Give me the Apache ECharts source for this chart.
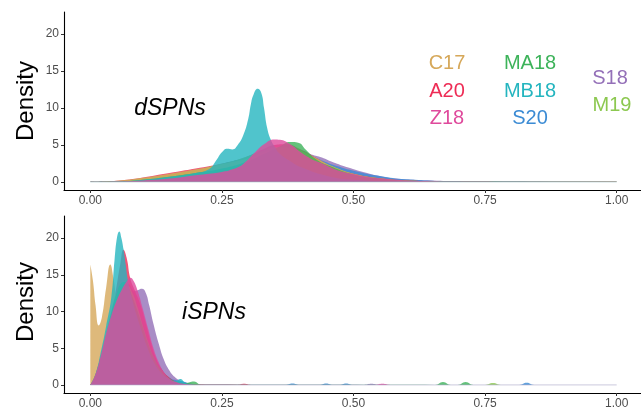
<!DOCTYPE html>
<html>
<head>
<meta charset="utf-8">
<script src="https://cdn.jsdelivr.net/npm/echarts@6/dist/echarts.min.js"></script>
<style>
  html, body { margin: 0; padding: 0; background: #fff; }
  #chart { width: 641px; height: 416px; }
</style>
</head>
<body>
<div id="chart"></div>
<script>
// sample names, drawing order (last one ends on top)
const samples = ['S18', 'S20', 'A20', 'M19', 'C17', 'MA18', 'MB18', 'Z18']
const sampleColors = {
  A20: '#EE2C55', C17: '#D6A85A', M19: '#8CC850', MA18: '#3DB35A',
  MB18: '#24B5BF', S18: '#9470B8', S20: '#3B8BD4', Z18: '#DF4A9C',
}
const xTicks = [0, 0.25, 0.5, 0.75, 1]
const yTicks = [0, 5, 10, 15, 20]

// dSPNs densities, [x, density]
const dA20 = [[0, 0], [0.05, 0.15], [0.1, 0.6], [0.15, 1.2], [0.2, 1.8], [0.25, 2.5], [0.28, 3.0], [0.3, 3.5], [0.33, 4.5], [0.35, 5.0], [0.37, 5.1], [0.4, 4.4], [0.43, 3.2], [0.46, 2.0], [0.5, 1.1], [0.55, 0.5], [0.6, 0.2], [0.7, 0.05], [0.8, 0.01], [1, 0]]
const dC17 = [[0, 0], [0.05, 0.15], [0.1, 0.55], [0.15, 1.1], [0.2, 1.7], [0.25, 2.4], [0.3, 3.2], [0.34, 4.2], [0.37, 4.6], [0.4, 4.2], [0.43, 3.2], [0.46, 2.1], [0.5, 1.1], [0.55, 0.5], [0.6, 0.2], [0.7, 0.05], [1, 0]]
const dM19 = [[0, 0], [0.05, 0.1], [0.1, 0.5], [0.15, 1.0], [0.2, 1.6], [0.24, 2.3], [0.28, 3.0], [0.32, 4.0], [0.36, 4.7], [0.39, 4.4], [0.42, 3.4], [0.46, 2.1], [0.5, 1.1], [0.55, 0.5], [0.6, 0.2], [0.7, 0.05], [1, 0]]
const dMA18 = [[0, 0], [0.05, 0.05], [0.1, 0.3], [0.15, 0.7], [0.2, 1.2], [0.25, 1.8], [0.3, 2.8], [0.33, 3.8], [0.36, 4.8], [0.38, 5.4], [0.395, 5.3], [0.41, 4.3], [0.43, 3.0], [0.46, 2.0], [0.5, 1.0], [0.55, 0.45], [0.6, 0.18], [0.7, 0.04], [1, 0]]
const dMB18 = [[0, 0], [0.05, 0.05], [0.1, 0.3], [0.15, 0.7], [0.2, 1.2], [0.225, 1.7], [0.24, 3.0], [0.25, 4.0], [0.26, 4.5], [0.27, 4.4], [0.28, 5.0], [0.29, 6.2], [0.3, 8.5], [0.305, 10.5], [0.31, 11.8], [0.318, 12.6], [0.325, 12.0], [0.33, 10.0], [0.336, 7.3], [0.343, 5.7], [0.35, 4.8], [0.36, 3.8], [0.38, 2.8], [0.4, 2.0], [0.45, 0.8], [0.5, 0.3], [0.6, 0.08], [0.8, 0.02], [1, 0.01]]
const dS18 = [[0, 0], [0.1, 0.2], [0.15, 0.5], [0.2, 0.9], [0.25, 1.4], [0.3, 2.3], [0.35, 3.5], [0.38, 4.2], [0.4, 4.2], [0.42, 3.7], [0.44, 3.3], [0.46, 2.7], [0.49, 1.95], [0.52, 1.3], [0.556, 0.7], [0.59, 0.4], [0.65, 0.2], [0.7, 0.1], [0.8, 0.03], [1, 0]]
const dS20 = [[0, 0], [0.05, 0.1], [0.1, 0.45], [0.15, 0.9], [0.2, 1.4], [0.236, 1.9], [0.25, 2.4], [0.27, 2.8], [0.3, 3.3], [0.33, 4.0], [0.36, 4.5], [0.38, 4.5], [0.41, 3.8], [0.44, 2.9], [0.47, 2.1], [0.5, 1.5], [0.55, 0.8], [0.6, 0.35], [0.7, 0.08], [1, 0]]
const dZ18 = [[0, 0], [0.05, 0.05], [0.1, 0.2], [0.15, 0.45], [0.2, 0.9], [0.25, 1.35], [0.27, 1.7], [0.29, 2.4], [0.31, 3.8], [0.33, 5.1], [0.35, 5.75], [0.36, 5.7], [0.38, 5.1], [0.4, 4.0], [0.42, 3.1], [0.435, 2.65], [0.45, 2.2], [0.473, 1.5], [0.5, 1.05], [0.524, 0.7], [0.55, 0.5], [0.59, 0.27], [0.65, 0.1], [0.7, 0.05], [1, 0]]

// iSPNs densities
const iA20 = [[0, 0], [0.01, 1.0], [0.02, 3.0], [0.03, 6.0], [0.04, 9.5], [0.05, 13.5], [0.057, 16.5], [0.063, 18.4], [0.069, 17.3], [0.076, 14.5], [0.085, 12.8], [0.095, 11.0], [0.105, 8.5], [0.115, 5.8], [0.125, 3.6], [0.135, 2.2], [0.15, 1.0], [0.165, 0.4], [0.18, 0.15], [0.2, 0.05], [0.28, 0], [0.292, 0.15], [0.305, 0], [1, 0]]
const iC17 = [[0, 16.4], [0.005, 14.2], [0.01, 10.8], [0.016, 8.1], [0.022, 9.2], [0.03, 13.2], [0.038, 16.4], [0.044, 14.5], [0.05, 11.8], [0.06, 9.3], [0.07, 8.2], [0.08, 7.2], [0.09, 5.8], [0.1, 4.3], [0.11, 3.0], [0.12, 2.0], [0.14, 0.8], [0.16, 0.3], [0.18, 0.1], [0.2, 0], [1, 0]]
const iM19 = [[0, 0], [0.01, 1.0], [0.02, 3.0], [0.03, 6.0], [0.04, 9.0], [0.05, 11.5], [0.06, 13.0], [0.07, 13.5], [0.08, 12.5], [0.09, 10.5], [0.1, 8.0], [0.11, 5.8], [0.12, 3.8], [0.135, 1.8], [0.15, 0.8], [0.17, 0.3], [0.19, 0.1], [0.21, 0], [0.75, 0], [0.765, 0.25], [0.78, 0], [1, 0]]
const iMA18 = [[0, 0], [0.01, 1.5], [0.02, 4.0], [0.03, 7.0], [0.04, 10.0], [0.05, 12.5], [0.058, 13.8], [0.065, 14.0], [0.072, 13.4], [0.08, 12.0], [0.09, 10.0], [0.1, 7.8], [0.11, 5.6], [0.12, 3.8], [0.135, 2.0], [0.15, 0.9], [0.165, 0.4], [0.18, 0.25], [0.197, 0.45], [0.21, 0.05], [0.655, 0], [0.67, 0.4], [0.685, 0], [0.698, 0], [0.713, 0.4], [0.728, 0], [1, 0]]
const iMB18 = [[0, 0], [0.01, 1.5], [0.02, 4.5], [0.03, 8.0], [0.04, 12.0], [0.046, 17.0], [0.051, 20.2], [0.055, 20.9], [0.059, 20.0], [0.063, 18.5], [0.067, 16.5], [0.072, 14.0], [0.08, 11.5], [0.09, 9.0], [0.1, 6.8], [0.11, 4.8], [0.12, 3.2], [0.135, 1.6], [0.15, 0.8], [0.162, 0.5], [0.171, 0.8], [0.18, 0.3], [0.19, 0.1], [0.2, 0], [1, 0]]
const iS18 = [[0, 0], [0.01, 0.5], [0.02, 1.5], [0.03, 3.0], [0.04, 5.0], [0.05, 7.5], [0.06, 10.0], [0.07, 11.5], [0.08, 12.6], [0.09, 12.9], [0.098, 13.1], [0.105, 12.6], [0.112, 10.8], [0.12, 8.3], [0.13, 5.6], [0.14, 3.4], [0.15, 2.0], [0.16, 1.1], [0.17, 0.6], [0.18, 0.35], [0.19, 0.2], [0.2, 0.1], [0.21, 0.05], [0.52, 0], [0.534, 0.15], [0.548, 0], [1, 0]]
const iS20 = [[0, 0], [0.01, 1.0], [0.02, 3.0], [0.03, 6.0], [0.04, 9.0], [0.05, 11.5], [0.06, 13.0], [0.07, 13.8], [0.08, 13.0], [0.09, 11.0], [0.1, 8.5], [0.11, 6.2], [0.12, 4.3], [0.135, 2.2], [0.15, 1.0], [0.165, 0.6], [0.175, 0.5], [0.19, 0.15], [0.21, 0], [0.37, 0], [0.384, 0.2], [0.398, 0], [0.435, 0], [0.448, 0.2], [0.461, 0], [0.473, 0], [0.486, 0.2], [0.499, 0], [0.815, 0], [0.829, 0.3], [0.843, 0], [1, 0]]
const iZ18 = [[0, 0], [0.01, 1.5], [0.02, 4.0], [0.03, 7.0], [0.04, 9.5], [0.05, 11.5], [0.06, 13.0], [0.07, 14.2], [0.076, 14.6], [0.082, 14.2], [0.09, 12.8], [0.1, 10.3], [0.11, 7.6], [0.12, 5.0], [0.13, 3.1], [0.14, 1.7], [0.15, 0.9], [0.16, 0.45], [0.18, 0.12], [0.2, 0.03], [0.54, 0], [0.555, 0.15], [0.57, 0], [1, 0]]

const dSPNs = { A20: dA20, C17: dC17, M19: dM19, MA18: dMA18, MB18: dMB18, S18: dS18, S20: dS20, Z18: dZ18 }
const iSPNs = { A20: iA20, C17: iC17, M19: iM19, MA18: iMA18, MB18: iMB18, S18: iS18, S20: iS20, Z18: iZ18 }

const font = '"Liberation Sans", Arial, Helvetica, sans-serif'

function makeX(idx) {
  return {
    type: 'value', gridIndex: idx, min: -0.05, max: 1.05,
    splitLine: { show: false },
    axisLine: { show: true, onZero: false, lineStyle: { color: '#000', width: 1.1 } },
    axisTick: { show: true, length: 3, customValues: xTicks, lineStyle: { color: '#333' } },
    axisLabel: {
      customValues: xTicks, formatter: (v) => v.toFixed(2),
      color: '#4d4d4d', fontSize: 12, fontFamily: font, margin: 5,
    },
  }
}

function makeY(idx) {
  return {
    type: 'value', gridIndex: idx, min: -1.1, max: 23,
    splitLine: { show: false },
    axisLine: { show: true, onZero: false, lineStyle: { color: '#000', width: 1.1 } },
    axisTick: { show: true, length: 3, customValues: yTicks, lineStyle: { color: '#333' } },
    axisLabel: { customValues: yTicks, color: '#4d4d4d', fontSize: 12, fontFamily: font, margin: 5 },
  }
}

const series = []
;[dSPNs, iSPNs].forEach((panel, idx) => {
  samples.forEach((s) => {
    series.push({
      name: s, type: 'line', xAxisIndex: idx, yAxisIndex: idx,
      data: panel[s], smooth: 0.5,
      showSymbol: false, silent: true,
      lineStyle: { width: 0 },
      areaStyle: { color: sampleColors[s], opacity: 0.8 },
    })
  })
})

// faint zero line the density polygons leave along the x axis
series.push({
  type: 'line', xAxisIndex: 0, yAxisIndex: 0, data: [[0, 0], [1, 0]],
  showSymbol: false, silent: true, lineStyle: { color: '#8fb8bd', width: 1, opacity: 0.6 },
})
series.push({
  type: 'line', xAxisIndex: 1, yAxisIndex: 1, data: [[0, 0], [1, 0]],
  showSymbol: false, silent: true, lineStyle: { color: '#a9a3c4', width: 1, opacity: 0.6 },
})

// legend-like coloured labels
const labelPos = [
  ['C17', 447, 63], ['A20', 447, 91], ['Z18', 447, 118],
  ['MA18', 530, 63], ['MB18', 530, 91], ['S20', 530, 118],
  ['S18', 610, 78], ['M19', 612, 105],
]
const graphics = labelPos.map(([t, x, y]) => ({
  type: 'text', x, y,
  style: { text: t, fill: sampleColors[t], font: `20px ${font}`, align: 'center', verticalAlign: 'middle' },
}))
graphics.push({ type: 'text', x: 170, y: 109, style: { text: 'dSPNs', fill: '#000', font: `italic 23px ${font}`, align: 'center', verticalAlign: 'middle' } })
graphics.push({ type: 'text', x: 214, y: 313, style: { text: 'iSPNs', fill: '#000', font: `italic 23px ${font}`, align: 'center', verticalAlign: 'middle' } })
// y axis titles, one per panel
;[101, 302].forEach((cy) => {
  graphics.push({
    type: 'text', x: 26, y: cy, rotation: Math.PI / 2,
    style: { text: 'Density', fill: '#000', font: `24px ${font}`, align: 'center', verticalAlign: 'middle' },
  })
})

const chart = echarts.init(document.getElementById('chart'), null, { renderer: 'canvas' })
chart.setOption({
  animation: false,
  backgroundColor: '#fff',
  grid: [
    { left: 64, top: 12, width: 579, height: 178, outerBoundsMode: 'none', containLabel: false },
    { left: 64, top: 216, width: 579, height: 177, outerBoundsMode: 'none', containLabel: false },
  ],
  xAxis: [makeX(0), makeX(1)],
  yAxis: [makeY(0), makeY(1)],
  series,
  graphic: graphics,
})
</script>
</body>
</html>
